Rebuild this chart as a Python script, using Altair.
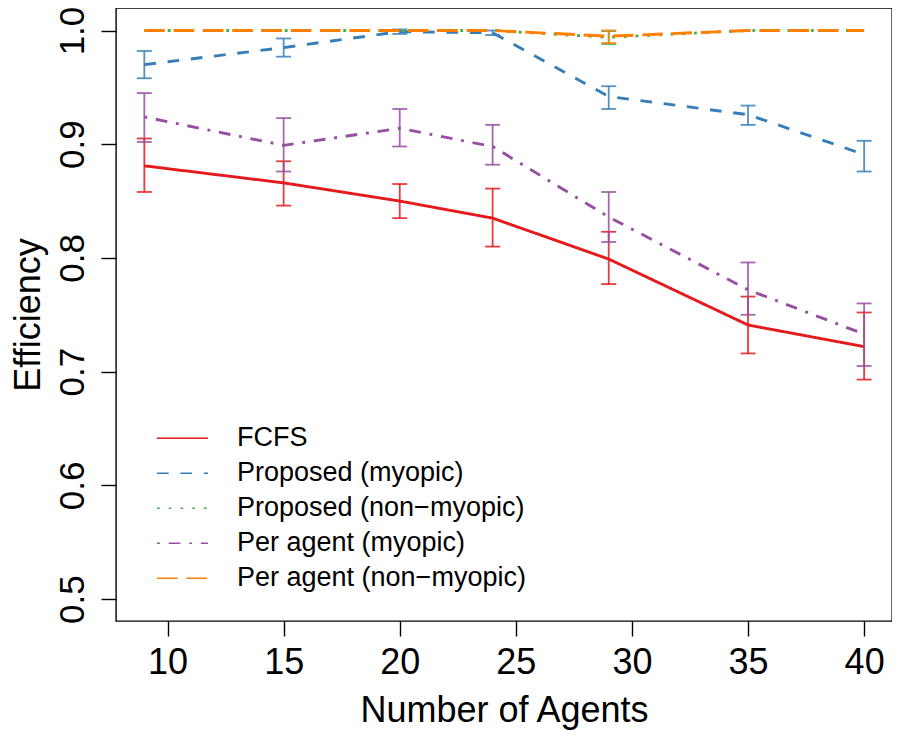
import altair as alt
import pandas as pd

agents = [9, 15, 20, 24, 29, 35, 40]

series_names = ["FCFS", "Proposed (myopic)", "Proposed (non\u2212myopic)",
                "Per agent (myopic)", "Per agent (non\u2212myopic)"]
colors = ["#E41A1C", "#377EB8", "#4DAF4A", "#984EA3", "#FF7F00"]
dashes = [[1, 0], [11.7, 11.7], [2.9, 8.8], [2.9, 8.8, 11.7, 8.8], [20.5, 8.8]]

fcfs = [0.881, 0.866, 0.850, 0.835, 0.799, 0.741, 0.722]
fcfs_lo = [0.858, 0.846, 0.835, 0.810, 0.777, 0.716, 0.693]
fcfs_hi = [0.905, 0.885, 0.865, 0.861, 0.823, 0.766, 0.752]

prop_my = [0.970, 0.985, 0.999, 0.998, 0.942, 0.926, 0.891]
prop_my_lo = [0.958, 0.977, 0.997, 0.996, 0.931, 0.917, 0.876]
prop_my_hi = [0.982, 0.993, 1.001, 1.000, 0.951, 0.934, 0.903]

prop_nm = [1.0, 1.0, 1.0, 1.0, 0.994, 1.0, 1.0]
prop_nm_lo = [1.0, 1.0, 1.0, 1.0, 0.988, 1.0, 1.0]
prop_nm_hi = [1.0, 1.0, 1.0, 1.0, 0.9995, 1.0, 1.0]

per_my = [0.924, 0.899, 0.914, 0.898, 0.836, 0.772, 0.733]
per_my_lo = [0.902, 0.876, 0.898, 0.882, 0.814, 0.750, 0.705]
per_my_hi = [0.945, 0.923, 0.931, 0.917, 0.858, 0.796, 0.760]

per_nm = [1.0, 1.0, 1.0, 1.0, 0.995, 1.0, 1.0]
per_nm_lo = [1.0, 1.0, 1.0, 1.0, 0.989, 1.0, 1.0]
per_nm_hi = [1.0, 1.0, 1.0, 1.0, 1.0, 1.0, 1.0]

values = [fcfs, prop_my, prop_nm, per_my, per_nm]
lows = [fcfs_lo, prop_my_lo, prop_nm_lo, per_my_lo, per_nm_lo]
highs = [fcfs_hi, prop_my_hi, prop_nm_hi, per_my_hi, per_nm_hi]

rows = []
for name, v, lo, hi in zip(series_names, values, lows, highs):
    for a, vv, l, h in zip(agents, v, lo, hi):
        rows.append({"agents": a, "series": name, "eff": vv, "lo": l, "hi": h})
df = pd.DataFrame(rows)

FONT = "Liberation Sans"
W, H = 776, 613

xscale = alt.Scale(domain=[7.78, 41.2], nice=False, zero=False)
yscale = alt.Scale(domain=[0.4807, 1.0198], nice=False, zero=False)

xaxis = alt.Axis(title="Number of Agents", values=[10, 15, 20, 25, 30, 35, 40],
                 grid=False, domain=False, ticks=True, tickSize=15, tickWidth=1.4,
                 tickColor="black", labelFont=FONT, labelFontSize=36,
                 labelColor="black", labelBaseline="alphabetic", labelPadding=37,
                 titleFont=FONT, titleFontSize=36, titleFontWeight="normal",
                 titleColor="black", titleBaseline="alphabetic",
                 titleX=W / 2, titleY=100, labelFlush=False)
yaxis = alt.Axis(title="Efficiency", values=[0.5, 0.6, 0.7, 0.8, 0.9, 1.0],
                 format=".1f", grid=False, domain=False, ticks=True, tickSize=15,
                 tickWidth=1.4, tickColor="black", labelFont=FONT,
                 labelFontSize=35, labelColor="black", labelAngle=270,
                 labelAlign="center", labelBaseline="alphabetic", labelPadding=18,
                 titleFont=FONT, titleFontSize=36, titleFontWeight="normal",
                 titleColor="black", titleAngle=270, titleAlign="center",
                 titleBaseline="alphabetic", titleX=-77, titleY=H / 2,
                 labelFlush=False)

legend = alt.Legend(title=None, orient="none", legendX=40, legendY=413,
                    symbolType="stroke", symbolSize=2601, symbolStrokeWidth=1.45,
                    labelFont=FONT, labelFontSize=27, labelColor="black",
                    labelOffset=28, labelLimit=600, clipHeight=34.3,
                    rowPadding=0, padding=0, symbolFillColor="transparent")

color = alt.Color("series:N", scale=alt.Scale(domain=series_names, range=colors),
                  legend=legend)
dash = alt.StrokeDash("series:N",
                      scale=alt.Scale(domain=series_names, range=dashes),
                      legend=legend)

layers = []
for name, c in zip(series_names, colors):
    base = alt.Chart(df).transform_filter(alt.datum.series == name)
    line = base.mark_line(strokeWidth=2.9, strokeCap="butt").encode(
        x=alt.X("agents:Q", scale=xscale, axis=xaxis),
        y=alt.Y("eff:Q", scale=yscale, axis=yaxis),
        color=color,
        strokeDash=dash,
    )
    bars = base.transform_filter(alt.datum.hi > alt.datum.lo)
    rule = bars.mark_rule(strokeWidth=1.8, opacity=0.85, color=c).encode(
        x="agents:Q", y="lo:Q", y2="hi:Q")
    tick_lo = bars.mark_tick(orient="horizontal", size=15, thickness=1.8,
                             opacity=0.85, color=c).encode(x="agents:Q", y="lo:Q")
    tick_hi = bars.mark_tick(orient="horizontal", size=15, thickness=1.8,
                             opacity=0.85, color=c).encode(x="agents:Q", y="hi:Q")
    layers += [line, rule, tick_lo, tick_hi]

chart = alt.layer(*layers).properties(
    width=W, height=H,
    autosize=alt.AutoSizeParams(type="none"),
    padding={"left": 108, "top": 0, "right": 0, "bottom": 110},
).configure_view(stroke="black", strokeWidth=1.4)

chart.save("out.html", embed_options={"renderer": "svg", "actions": False})
